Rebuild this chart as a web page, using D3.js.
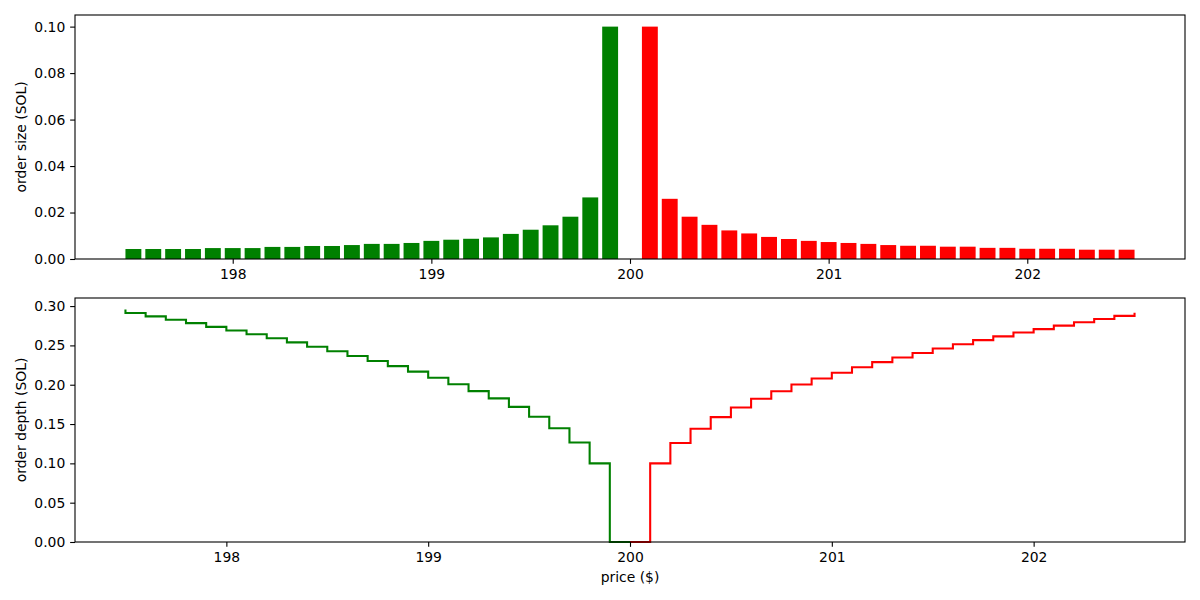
<!DOCTYPE html>
<html>
<head>
<meta charset="utf-8">
<script src="https://cdn.jsdelivr.net/npm/d3@7"></script>
<style>
  body { margin: 0; background: #fff; }
  svg { display: block; font-family: "DejaVu Sans", sans-serif; }
  .tick text { font-size: 13.9px; fill: #000; }
  .tick line { stroke: #000; stroke-width: 1.1px; }
</style>
</head>
<body>
<svg id="chart" width="1200" height="600"></svg>
<script>
// ---- data ----
const bidPrices = [197.5, 197.6, 197.7, 197.8, 197.9, 198.0, 198.1, 198.2, 198.3, 198.4,
                   198.5, 198.6, 198.7, 198.8, 198.9, 199.0, 199.1, 199.2, 199.3, 199.4,
                   199.5, 199.6, 199.7, 199.8, 199.9];
const bidSizes  = [0.0043, 0.0043, 0.0043, 0.0043, 0.0047, 0.0047, 0.0047, 0.0052, 0.0052, 0.0056,
                   0.0056, 0.0060, 0.0065, 0.0065, 0.0069, 0.0078, 0.0083, 0.0087, 0.0093, 0.0108,
                   0.0126, 0.0145, 0.0182, 0.0265, 0.1000];
const askPrices = [200.1, 200.2, 200.3, 200.4, 200.5, 200.6, 200.7, 200.8, 200.9, 201.0,
                   201.1, 201.2, 201.3, 201.4, 201.5, 201.6, 201.7, 201.8, 201.9, 202.0,
                   202.1, 202.2, 202.3, 202.4, 202.5];
const askSizes  = [0.1000, 0.0259, 0.0182, 0.0147, 0.0123, 0.0110, 0.0095, 0.0086, 0.0078, 0.0073,
                   0.0069, 0.0065, 0.0060, 0.0057, 0.0057, 0.0053, 0.0053, 0.0048, 0.0048, 0.0044,
                   0.0044, 0.0044, 0.0040, 0.0040, 0.0040];
const midPrice = 200.0;
const xTicks = [198, 199, 200, 201, 202];
const sizeTicks = [0.00, 0.02, 0.04, 0.06, 0.08, 0.10];
const depthTicks = [0.00, 0.05, 0.10, 0.15, 0.20, 0.25, 0.30];
const barWidth = 0.08;

// cumulative depth (bids accumulate away from mid, downward in price)
const bidDepth = bidSizes.map((_, i) => d3.sum(bidSizes.slice(i)));
const askDepth = askSizes.map((_, i) => d3.sum(askSizes.slice(0, i + 1)));

const svg = d3.select("#chart");
const L = 75, R = 1185;
const top1 = 15, bot1 = 259, top2 = 298, bot2 = 542;
const fs = 13.9;

function pad(lo, hi) { const m = (hi - lo) * 0.05; return [lo - m, hi + m]; }

// ---- top: order size bars ----
const allP = bidPrices.concat(askPrices);
const x1 = d3.scaleLinear()
  .domain(pad(d3.min(allP) - barWidth / 2, d3.max(allP) + barWidth / 2))
  .range([L, R]);
const maxSize = d3.max(bidSizes.concat(askSizes));
const y1 = d3.scaleLinear().domain([0, maxSize * 1.05]).range([bot1, top1]);

const g1 = svg.append("g");
g1.selectAll("rect.bid").data(bidPrices).join("rect")
  .attr("x", (p) => x1(p - barWidth / 2))
  .attr("width", (p) => x1(p + barWidth / 2) - x1(p - barWidth / 2))
  .attr("y", (p, i) => y1(bidSizes[i]))
  .attr("height", (p, i) => y1(0) - y1(bidSizes[i]))
  .attr("fill", "green");
g1.selectAll("rect.ask").data(askPrices).join("rect")
  .attr("x", (p) => x1(p - barWidth / 2))
  .attr("width", (p) => x1(p + barWidth / 2) - x1(p - barWidth / 2))
  .attr("y", (p, i) => y1(askSizes[i]))
  .attr("height", (p, i) => y1(0) - y1(askSizes[i]))
  .attr("fill", "red");

// ---- bottom: depth steps ----
const x2 = d3.scaleLinear().domain(pad(d3.min(allP), d3.max(allP))).range([L, R]);
const maxDepth = d3.max(bidDepth.concat(askDepth));
const y2 = d3.scaleLinear().domain([0, maxDepth * 1.05]).range([bot2, top2]);

const bidPts = bidPrices.map((p, i) => [p, bidDepth[i]]).concat([[midPrice, 0]]);
const askPts = [[midPrice, 0]].concat(askPrices.map((p, i) => [p, askDepth[i]]));

const g2 = svg.append("g");
g2.append("path")
  .attr("d", d3.line().x(d => x2(d[0])).y(d => y2(d[1])).curve(d3.curveStepBefore)(bidPts))
  .attr("fill", "none").attr("stroke", "green").attr("stroke-width", 2.08);
g2.append("path")
  .attr("d", d3.line().x(d => x2(d[0])).y(d => y2(d[1])).curve(d3.curveStepAfter)(askPts))
  .attr("fill", "none").attr("stroke", "red").attr("stroke-width", 2.08);

// ---- axes ----
const tk = 4.86;
function styleAxis(g) { g.select(".domain").remove(); }

svg.append("g").attr("transform", `translate(0,${bot1})`)
  .call(d3.axisBottom(x1).tickValues(xTicks).tickFormat(d3.format("d")).tickSize(tk).tickPadding(tk))
  .call(styleAxis);
svg.append("g").attr("transform", `translate(${L},0)`)
  .call(d3.axisLeft(y1).tickValues(sizeTicks).tickFormat(d3.format(".2f")).tickSize(tk).tickPadding(tk))
  .call(styleAxis);
svg.append("g").attr("transform", `translate(0,${bot2})`)
  .call(d3.axisBottom(x2).tickValues(xTicks).tickFormat(d3.format("d")).tickSize(tk).tickPadding(tk))
  .call(styleAxis);
svg.append("g").attr("transform", `translate(${L},0)`)
  .call(d3.axisLeft(y2).tickValues(depthTicks).tickFormat(d3.format(".2f")).tickSize(tk).tickPadding(tk))
  .call(styleAxis);
svg.selectAll(".tick text").attr("font-family", "DejaVu Sans").attr("font-size", fs);

// frames
[[top1, bot1], [top2, bot2]].forEach(([t, b]) => {
  svg.append("rect").attr("x", L).attr("y", t).attr("width", R - L).attr("height", b - t)
    .attr("fill", "none").attr("stroke", "#000").attr("stroke-width", 1.1);
});

// labels
svg.append("text").attr("transform", `translate(21,${(top1 + bot1) / 2}) rotate(-90)`)
  .attr("text-anchor", "middle").attr("dominant-baseline", "central")
  .attr("font-size", fs).text("order size (SOL)");
svg.append("text").attr("transform", `translate(21,${(top2 + bot2) / 2}) rotate(-90)`)
  .attr("text-anchor", "middle").attr("dominant-baseline", "central")
  .attr("font-size", fs).text("order depth (SOL)");
svg.append("text").attr("x", (L + R) / 2).attr("y", 577)
  .attr("text-anchor", "middle").attr("dominant-baseline", "central")
  .attr("font-size", fs).text("price ($)");
</script>
</body>
</html>
